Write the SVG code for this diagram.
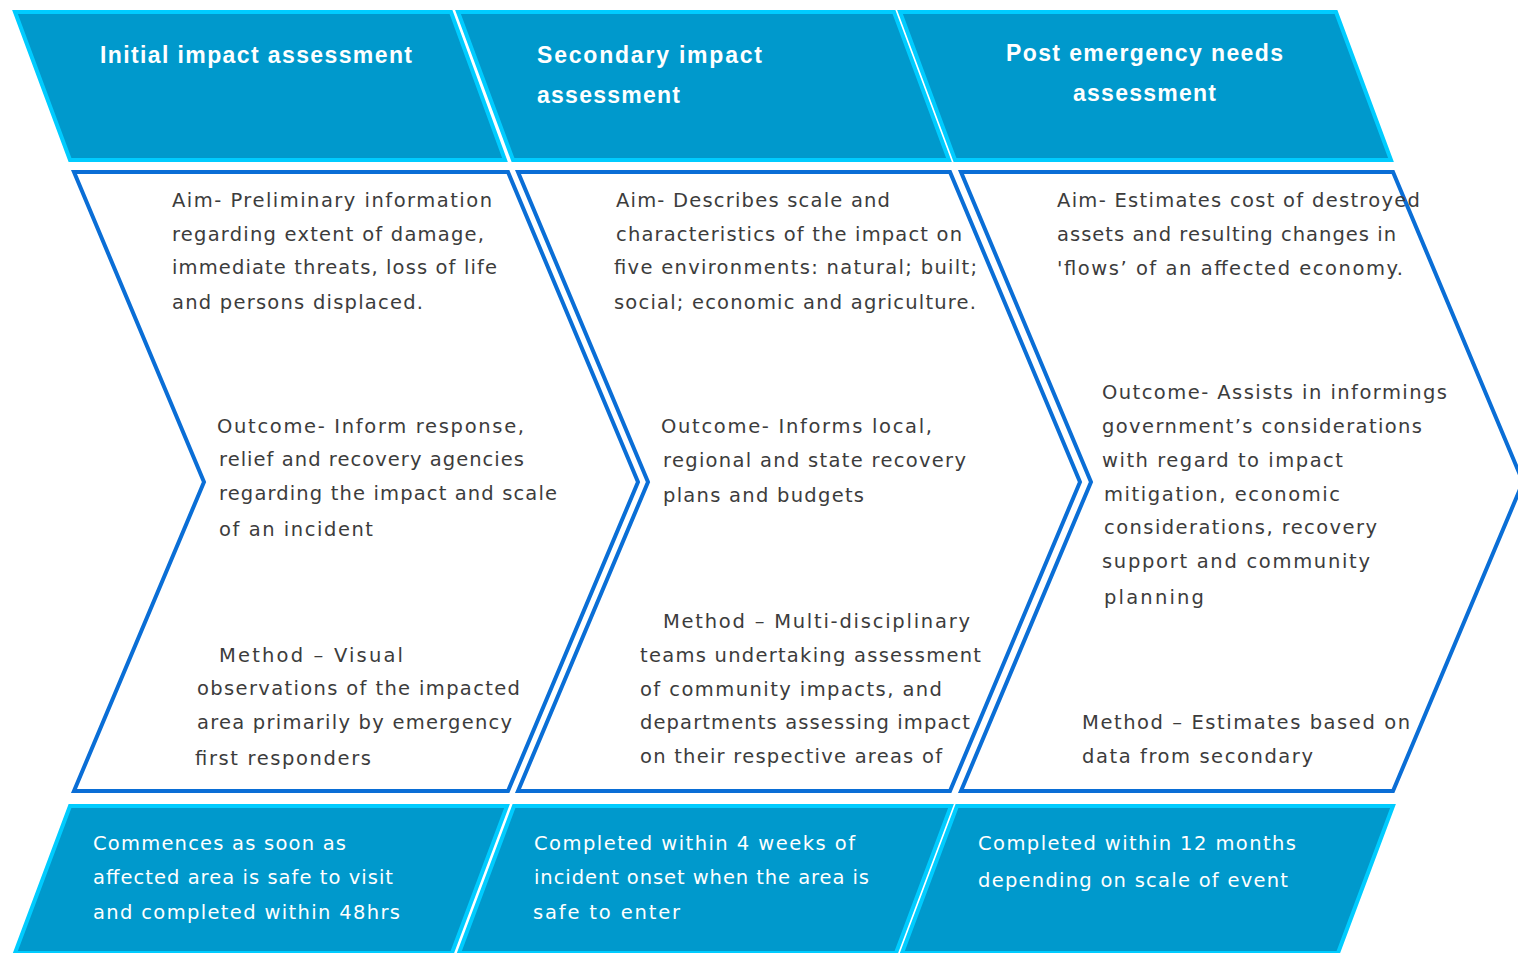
<svg xmlns="http://www.w3.org/2000/svg" width="1518" height="953" viewBox="0 0 1518 953">
  <style>
    .band { fill: #0099CC; stroke: #00CCFF; stroke-width: 4; stroke-linejoin: miter; }
    .chev { fill: #FFFFFF; stroke: #0A6ED6; stroke-width: 4; stroke-linejoin: miter; }
    .head { font-family: "Liberation Sans", Arial, sans-serif; font-weight: bold; font-size: 23px; fill: #FFFFFF; }
    .body { font-family: "DejaVu Sans", "Liberation Sans", sans-serif; font-size: 19.5px; fill: #3C3C3C; }
    .foot { font-family: "DejaVu Sans", "Liberation Sans", sans-serif; font-size: 19.5px; fill: #FFFFFF; }
  </style>
  <rect x="0" y="0" width="1518" height="953" fill="#FFFFFF"/>

  <!-- Stage headers -->
  <g id="header-initial">
    <polygon class="band" points="15,12 451,12 505,160 70,160"/>
    <text class="head" x="100" y="63" textLength="312" lengthAdjust="spacing">Initial impact assessment</text>
  </g>
  <g id="header-secondary">
    <polygon class="band" points="458,12 894,12 949,160 513,160"/>
    <text class="head" x="537" y="63" textLength="225" lengthAdjust="spacing">Secondary impact</text>
    <text class="head" x="537" y="103" textLength="143" lengthAdjust="spacing">assessment</text>
  </g>
  <g id="header-post">
    <polygon class="band" points="900,12 1336,12 1391,160 955,160"/>
    <text class="head" x="1006" y="61" textLength="277" lengthAdjust="spacing">Post emergency needs</text>
    <text class="head" x="1073" y="101" textLength="143" lengthAdjust="spacing">assessment</text>
  </g>

  <!-- Chevron panels -->
  <g id="panel-initial">
    <polygon class="chev" points="74,172 508,172 638,482 508,791 74,791 204,482"/>
    <text class="body" x="172" y="207" textLength="320" lengthAdjust="spacing">Aim- Preliminary information</text>
    <text class="body" x="172" y="241" textLength="312" lengthAdjust="spacing">regarding extent of damage,</text>
    <text class="body" x="172" y="274" textLength="325" lengthAdjust="spacing">immediate threats, loss of life</text>
    <text class="body" x="172" y="309" textLength="251" lengthAdjust="spacing">and persons displaced.</text>
    <text class="body" x="217" y="433" textLength="307" lengthAdjust="spacing">Outcome- Inform response,</text>
    <text class="body" x="219" y="466" textLength="305" lengthAdjust="spacing">relief and recovery agencies</text>
    <text class="body" x="219" y="500" textLength="338" lengthAdjust="spacing">regarding the impact and scale</text>
    <text class="body" x="219" y="536" textLength="154" lengthAdjust="spacing">of an incident</text>
    <text class="body" x="219" y="662" textLength="184" lengthAdjust="spacing">Method – Visual</text>
    <text class="body" x="197" y="695" textLength="323" lengthAdjust="spacing">observations of the impacted</text>
    <text class="body" x="197" y="729" textLength="315" lengthAdjust="spacing">area primarily by emergency</text>
    <text class="body" x="195" y="765" textLength="176" lengthAdjust="spacing">first responders</text>
  </g>
  <g id="panel-secondary">
    <polygon class="chev" points="518,172 950,172 1080,482 950,791 518,791 648,482"/>
    <text class="body" x="616" y="207" textLength="274" lengthAdjust="spacing">Aim- Describes scale and</text>
    <text class="body" x="616" y="241" textLength="346" lengthAdjust="spacing">characteristics of the impact on</text>
    <text class="body" x="614" y="274" textLength="363" lengthAdjust="spacing">five environments: natural; built;</text>
    <text class="body" x="614" y="309" textLength="362" lengthAdjust="spacing">social; economic and agriculture.</text>
    <text class="body" x="661" y="433" textLength="271" lengthAdjust="spacing">Outcome- Informs local,</text>
    <text class="body" x="663" y="467" textLength="303" lengthAdjust="spacing">regional and state recovery</text>
    <text class="body" x="663" y="502" textLength="201" lengthAdjust="spacing">plans and budgets</text>
    <text class="body" x="663" y="628" textLength="307" lengthAdjust="spacing">Method – Multi-disciplinary</text>
    <text class="body" x="640" y="662" textLength="341" lengthAdjust="spacing">teams undertaking assessment</text>
    <text class="body" x="640" y="696" textLength="302" lengthAdjust="spacing">of community impacts, and</text>
    <text class="body" x="640" y="729" textLength="330" lengthAdjust="spacing">departments assessing impact</text>
    <text class="body" x="640" y="763" textLength="302" lengthAdjust="spacing">on their respective areas of</text>
  </g>
  <g id="panel-post">
    <polygon class="chev" points="961,172 1393,172 1523,482 1393,791 961,791 1091,482"/>
    <text class="body" x="1057" y="207" textLength="363" lengthAdjust="spacing">Aim- Estimates cost of destroyed</text>
    <text class="body" x="1057" y="241" textLength="339" lengthAdjust="spacing">assets and resulting changes in</text>
    <text class="body" x="1057" y="275" textLength="346" lengthAdjust="spacing">'flows’ of an affected economy.</text>
    <text class="body" x="1102" y="399" textLength="345" lengthAdjust="spacing">Outcome- Assists in informings</text>
    <text class="body" x="1102" y="433" textLength="320" lengthAdjust="spacing">government’s considerations</text>
    <text class="body" x="1102" y="467" textLength="241" lengthAdjust="spacing">with regard to impact</text>
    <text class="body" x="1104" y="501" textLength="236" lengthAdjust="spacing">mitigation, economic</text>
    <text class="body" x="1104" y="534" textLength="273" lengthAdjust="spacing">considerations, recovery</text>
    <text class="body" x="1102" y="568" textLength="268" lengthAdjust="spacing">support and community</text>
    <text class="body" x="1104" y="604" textLength="100" lengthAdjust="spacing">planning</text>
    <text class="body" x="1082" y="729" textLength="328" lengthAdjust="spacing">Method – Estimates based on</text>
    <text class="body" x="1082" y="763" textLength="231" lengthAdjust="spacing">data from secondary</text>
  </g>

  <!-- Timing bands -->
  <g id="timing-initial">
    <polygon class="band" points="70,806 507,806 452,953 15,953"/>
    <text class="foot" x="93" y="850" textLength="253" lengthAdjust="spacing">Commences as soon as</text>
    <text class="foot" x="93" y="884" textLength="300" lengthAdjust="spacing">affected area is safe to visit</text>
    <text class="foot" x="93" y="919" textLength="307" lengthAdjust="spacing">and completed within 48hrs</text>
  </g>
  <g id="timing-secondary">
    <polygon class="band" points="514,806 951,806 896,953 459,953"/>
    <text class="foot" x="534" y="850" textLength="321" lengthAdjust="spacing">Completed within 4 weeks of</text>
    <text class="foot" x="534" y="884" textLength="335" lengthAdjust="spacing">incident onset when the area is</text>
    <text class="foot" x="533" y="919" textLength="147" lengthAdjust="spacing">safe to enter</text>
  </g>
  <g id="timing-post">
    <polygon class="band" points="957,806 1393,806 1338,953 902,953"/>
    <text class="foot" x="978" y="850" textLength="318" lengthAdjust="spacing">Completed within 12 months</text>
    <text class="foot" x="978" y="887" textLength="310" lengthAdjust="spacing">depending on scale of event</text>
  </g>
</svg>
